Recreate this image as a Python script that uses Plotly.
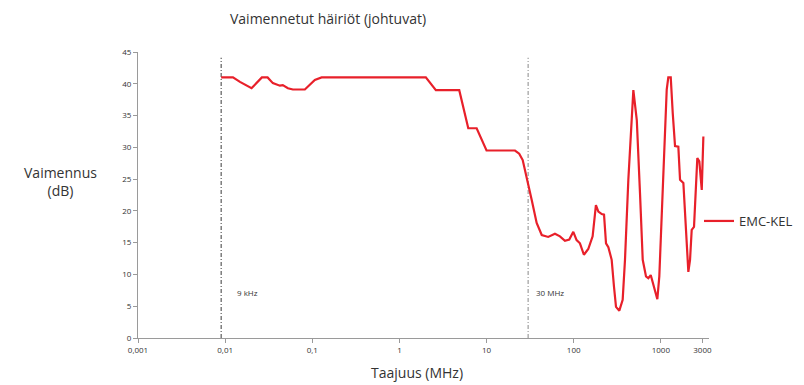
import math
import plotly.graph_objects as go

# Attenuation curve for the EMC-KEL filter (frequency in MHz, attenuation in dB)
freq_mhz = [
    0.009, 0.0123, 0.0148, 0.0176, 0.0201, 0.0264, 0.0307, 0.0353, 0.0425,
    0.0459, 0.0525, 0.0599, 0.0822, 0.107, 0.128, 2.01, 2.62, 4.86, 6.17,
    7.7, 10.0, 21.2, 23.7, 26.0, 28.8, 33.0, 37.6, 43.0, 51.0, 61.0, 69.6,
    79.4, 89.0, 99.0, 108, 118, 131, 147, 165, 180, 192, 210, 223, 235,
    250, 273, 290, 306, 334, 365, 388, 424, 484, 530, 577, 620, 676, 719,
    766, 820, 881, 912, 961, 1069, 1169, 1219, 1300, 1370, 1456, 1589,
    1662, 1815, 1898, 1985, 2070, 2165, 2262, 2405, 2624, 2767, 2950, 3079,
]
atten_db = [
    41.0, 41.0, 40.3, 39.8, 39.3, 41.0, 41.0, 40.1, 39.7,
    39.8, 39.3, 39.1, 39.1, 40.6, 41.0, 41.0, 39.0, 39.0, 33.0,
    33.0, 29.5, 29.5, 29.0, 28.0, 25.4, 21.7, 18.1, 16.2, 15.9, 16.4, 16.0,
    15.3, 15.5, 16.7, 15.4, 14.9, 13.1, 14.0, 16.0, 20.9, 19.9, 19.5, 19.4, 14.9,
    14.3, 12.3, 8.1, 4.9, 4.3, 6.0, 12.3, 24.9, 39.0, 34.3, 22.8, 12.3, 9.7, 9.4,
    9.9, 8.3, 6.5, 6.1, 9.7, 26.5, 39.1, 41.0, 41.0, 35.4, 30.2, 30.1,
    24.9, 24.4, 20.2, 14.4, 10.4, 12.3, 17.0, 17.5, 28.3, 27.8, 23.3, 31.7,
]

# Band limits marked on the chart
band_freqs = [0.009, 30]
band_labels = ["9 kHz", "30 MHz"]
band_colors = ["#3a3a3a", "#8a8a8a"]

# Axis ticks
x_tickvals = [0.001, 0.01, 0.1, 1, 10, 100, 1000, 3000]
x_ticktext = ["0,001", "0,01", "0,1", "1", "10", "100", "1000", "3000"]
y_tickvals = [0, 5, 10, 15, 20, 25, 30, 35, 40, 45]

TEXT = "#333333"
AXIS = "#9a9a9a"
FONT = "Open Sans"

fig = go.Figure()

for f, c in zip(band_freqs, band_colors):
    fig.add_trace(go.Scatter(
        x=[f, f], y=[0, 44.1], mode="lines",
        line=dict(color=c, width=1, dash="4px,2px,1px,2px"),
        showlegend=False, hoverinfo="skip",
    ))

fig.add_trace(go.Scatter(
    x=freq_mhz, y=atten_db, mode="lines", name="EMC-KEL",
    line=dict(color="#e8202a", width=2.2),
))

for f, lbl in zip(band_freqs, band_labels):
    fig.add_annotation(
        x=math.log10(f), y=7.2, xref="x", yref="y", text=lbl,
        showarrow=False, xanchor="left", xshift=14 if f < 1 else 6,
        font=dict(family=FONT, size=8, color=TEXT),
    )

# Axis titles placed as free text
fig.add_annotation(
    text="Vaimennus<br>(dB)", xref="paper", yref="paper",
    x=(60 - 138) / 571, y=(338 - 181) / 286, xanchor="center", yanchor="middle",
    showarrow=False, font=dict(family=FONT, size=14, color=TEXT),
)
fig.add_annotation(
    text="Taajuus (MHz)", xref="paper", yref="paper",
    x=(417 - 138) / 571, y=(338 - 372) / 286, xanchor="center", yanchor="middle",
    showarrow=False, font=dict(family=FONT, size=14, color=TEXT),
)

fig.update_layout(
    width=804, height=385,
    margin=dict(l=138, r=95, t=52, b=47, autoexpand=False),
    paper_bgcolor="white", plot_bgcolor="white",
    title=dict(
        text="Vaimennetut häiriöt (johtuvat)",
        x=328 / 804, xanchor="center", y=1 - 19 / 385, yanchor="middle",
        font=dict(family=FONT, size=14, color=TEXT),
    ),
    showlegend=True,
    legend=dict(
        x=(699 - 138) / 571, xanchor="left", y=(338 - 221) / 286, yanchor="middle",
        font=dict(family=FONT, size=13, color=TEXT),
        bgcolor="rgba(0,0,0,0)",
    ),
    xaxis=dict(
        type="log", range=[-3, 3.553],
        tickvals=x_tickvals, ticktext=x_ticktext,
        showgrid=False, zeroline=False,
        showline=True, linecolor=AXIS, linewidth=1,
        ticks="outside", ticklen=4, tickcolor=AXIS,
        tickfont=dict(family=FONT, size=8, color=TEXT),
    ),
    yaxis=dict(
        range=[0, 45], tickvals=y_tickvals,
        showgrid=False, zeroline=False,
        showline=True, linecolor=AXIS, linewidth=1,
        ticks="outside", ticklen=4, tickcolor=AXIS,
        tickfont=dict(family=FONT, size=8, color=TEXT),
    ),
)

fig.write_html("out.html")
